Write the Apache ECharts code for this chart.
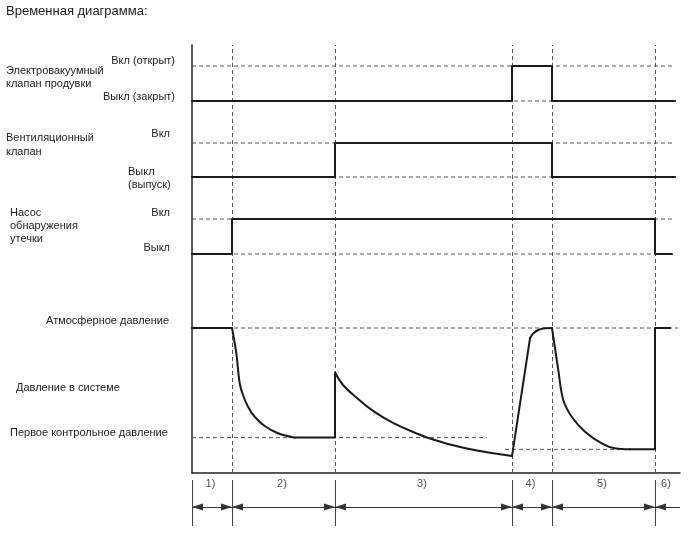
<!DOCTYPE html>
<html><head><meta charset="utf-8">
<script src="https://cdn.jsdelivr.net/npm/echarts@6/dist/echarts.min.js"></script>
<style>html,body{margin:0;padding:0;background:#fff}#c{width:688px;height:560px}</style>
</head><body><div id="c"></div>
<script>
// ---- data ----
const title = 'Временная диаграмма:';
const phaseBounds = [0, 4, 14.3, 32, 36, 46.3];      // phase start times
const timeEnd = 48.8;
const phaseLabels = ['1)', '2)', '3)', '4)', '5)', '6)'];
// digital signals (0 = выкл, 1 = вкл)
const purgeValve = [[0,0],[32,0],[32,1],[36,1],[36,0],[48.3,0]];
const ventValve  = [[0,0],[14.3,0],[14.3,1],[36,1],[36,0],[48.3,0]];
const leakPump   = [[0,0],[4,0],[4,1],[46.3,1],[46.3,0],[48.0,0]];
// system pressure (atmospheric = 100)
const atmPressure = 100;
const firstCheckPressure = 24.4;
const secondLowPressure = 16.3;
const systemPressure = [
  [0,100],[4.0,100],[4.43,82.6],[4.77,61.9],[5.1,53.8],[5.6,45.7],[6.27,38.8],[7.27,32.4],
  [8.6,27.4],[10.27,24.4],[14.3,24.4],
  [14.3,69.3],[15.1,60.7],[16.5,51.7],[18.1,42.8],[20.1,34.5],[22.5,27.2],[23.5,24.5],
  [25.8,19.7],[28.5,15.5],[30.8,12.9],[32.0,11.7],
  [33.8,92.9],[34.13,96.3],[34.63,98.6],[35.3,99.8],[36.0,100],
  [36.63,71.0],[37.13,50.3],[37.97,38.8],[39.3,28.5],[40.97,20.5],[42.3,17.0],[43.8,16.3],
  [46.3,16.3],[46.3,100],[47.8,100]
];
// which index spans of the pressure trace are curved
const curvedSpans = [[1,9],[11,21],[22,26],[26,33]];
const straightSpans = [[0,1],[9,11],[21,22],[33,36]];
// label texts
const signalNames = [['Электровакуумный','клапан продувки'], ['Вентиляционный','клапан'], ['Насос','обнаружения','утечки']];
const purgeLevels = ['Вкл (открыт)', 'Выкл (закрыт)'];
const ventLevels = ['Вкл', 'Выкл', '(выпуск)'];
const pumpLevels = ['Вкл', 'Выкл'];
const pressureLabels = ['Атмосферное давление', 'Давление в системе', 'Первое контрольное давление'];

// ---- chart ----
const FONT = '"Liberation Sans", Arial, sans-serif';
const L = 192, W = 488;
const grids = [
  {left:L, top:45, width:W, height:428},   // frame
  {left:L, top:66, width:W, height:35},    // purge
  {left:L, top:143, width:W, height:34},   // vent
  {left:L, top:219, width:W, height:35},   // pump
  {left:L, top:328, width:W, height:145},  // pressure
  {left:L, top:480, width:W, height:46}    // phases
];
const yRanges = [[0,1],[0,1],[0,1],[0,1],[0,atmPressure],[0,1]];
const xAxes = grids.map((g,i)=>({type:'value', gridIndex:i, min:0, max:timeEnd,
  show: i===0, axisLine:{show:true, lineStyle:{color:'#222', width:1.5}},
  axisTick:{show:false}, axisLabel:{show:false}, splitLine:{show:false}}));
const yAxes = grids.map((g,i)=>({type:'value', gridIndex:i, min:yRanges[i][0], max:yRanges[i][1],
  show: i===0, axisLine:{show:true, lineStyle:{color:'#222', width:1.5}},
  axisTick:{show:false}, axisLabel:{show:false}, splitLine:{show:false}}));

const dash = {type:[4,3], color:'#555', width:1};
function dashed(gi, pts){ return {type:'line', xAxisIndex:gi, yAxisIndex:gi, data:pts, symbol:'none', clip:false,
  silent:true, z:1, lineStyle:dash}; }
function trace(gi, pts, smooth){ return {type:'line', xAxisIndex:gi, yAxisIndex:gi, data:pts, symbol:'none', clip:false,
  silent:true, z:5, smooth:smooth||false, lineStyle:{color:'#1a1a1a', width:2, cap:'round', join:'round'}}; }

const x0 = -1.4, x1 = 48.3;
const series = [
  // vertical dashed event lines
  {type:'line', xAxisIndex:0, yAxisIndex:0, data:[], symbol:'none', silent:true,
    markLine:{silent:true, symbol:'none', label:{show:false}, lineStyle:dash,
      data: phaseBounds.slice(1).map(t=>({xAxis:t}))}},
  dashed(1, [[x0,1],[x1,1]]), dashed(1, [[x0,0],[x1,0]]),
  dashed(2, [[x0,1],[x1,1]]), dashed(2, [[x0,0],[x1,0]]),
  dashed(3, [[x0,1],[x1,1]]), dashed(3, [[x0,0],[48.0,0]]),
  dashed(4, [[x0,atmPressure],[48.6,atmPressure]]),
  dashed(4, [[x0,firstCheckPressure],[29.5,firstCheckPressure]]),
  dashed(4, [[31.3,secondLowPressure],[42.8,secondLowPressure]]),
  trace(1, purgeValve), trace(2, ventValve), trace(3, leakPump),
  ...straightSpans.map(s=>trace(4, systemPressure.slice(s[0], s[1]+1), false)),
  ...curvedSpans.map(s=>trace(4, systemPressure.slice(s[0], s[1]+1), 0.4)),
  // phase boundary ticks and arrows
  {type:'line', xAxisIndex:5, yAxisIndex:5, data:[], symbol:'none', silent:true,
    markLine:{silent:true, symbol:'none', label:{show:false}, lineStyle:{type:'solid', color:'#444', width:1},
      data: phaseBounds.map(t=>({xAxis:t}))}},
  {type:'line', xAxisIndex:5, yAxisIndex:5, data:[], symbol:'none', silent:true,
    markLine:{silent:true, symbol:['triangle','triangle'], symbolSize:[7,11], symbolOffset:[[0,5.5],[0,5.5]],
      label:{show:false}, lineStyle:{type:'solid', color:'#333', width:1},
      data: phaseBounds.slice(0,-1).map((t,i)=>[{coord:[t,0.413]},{coord:[phaseBounds[i+1],0.413]}])}},
  {type:'line', xAxisIndex:5, yAxisIndex:5, data:[], symbol:'none', silent:true,
    markLine:{silent:true, symbol:['triangle','none'], symbolSize:[7,11], symbolOffset:[[0,5.5],[0,0]],
      label:{show:false}, lineStyle:{type:'solid', color:'#333', width:1},
      data: [[{coord:[phaseBounds[5],0.413]},{coord:[timeEnd,0.413]}]]}},
  {type:'scatter', xAxisIndex:5, yAxisIndex:5, symbolSize:0, silent:true,
    data: phaseLabels.map((s,i)=>{const a=phaseBounds[i], b=i<5?phaseBounds[i+1]:timeEnd; return {value:[(a+b)/2-0.15,0.913], name:s};}),
    label:{show:true, position:'inside', formatter:p=>p.name, color:'#222', fontSize:11, fontFamily:FONT}}
];

function txt(x, y, s, align, size){ return {type:'text', x:x, y:y, silent:true,
  style:{text:s, fill:'#222', font:(size||11)+'px '+FONT, textAlign:align||'left', textVerticalAlign:'middle'}}; }
const graphic = [
  txt(6, 11, title, 'left', 13),
  txt(6, 71, signalNames[0][0]), txt(6, 84, signalNames[0][1]),
  txt(175, 61, purgeLevels[0], 'right'), txt(175, 97, purgeLevels[1], 'right'),
  txt(6, 138, signalNames[1][0]), txt(6, 152, signalNames[1][1]),
  txt(170, 134, ventLevels[0], 'right'), txt(128, 172, ventLevels[1]), txt(128, 185, ventLevels[2]),
  txt(10, 213, signalNames[2][0]), txt(10, 226, signalNames[2][1]), txt(10, 239, signalNames[2][2]),
  txt(170, 213, pumpLevels[0], 'right'), txt(170, 248, pumpLevels[1], 'right'),
  txt(169, 321, pressureLabels[0], 'right'), txt(16, 388, pressureLabels[1]), txt(10, 433, pressureLabels[2])
];

const chart = echarts.init(document.getElementById('c'), null, {renderer:'canvas'});
chart.setOption({animation:false, backgroundColor:'#fff', grid:grids, xAxis:xAxes, yAxis:yAxes, series:series, graphic:graphic});
</script></body></html>
